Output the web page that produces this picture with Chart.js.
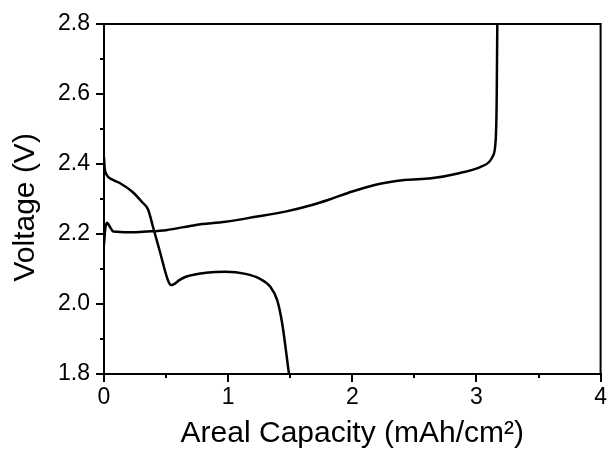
<!DOCTYPE html>
<html>
<head>
<meta charset="utf-8">
<script src="https://cdn.jsdelivr.net/npm/chart.js@4/dist/chart.umd.min.js"></script>
<style>
  html, body { margin: 0; padding: 0; background: #fff; }
  #wrap { width: 609px; height: 453px; }
</style>
</head>
<body>
<div id="wrap"><canvas id="myChart" width="609" height="453"></canvas></div>
<script>
// discharge curve
var dischargeCap  = [0, 0.005, 0.02, 0.07, 0.13, 0.23, 0.31, 0.355, 0.395, 0.45, 0.515, 0.54, 0.56, 0.61, 0.66, 0.82, 0.98, 1.14, 1.25, 1.34, 1.395, 1.435, 1.49]
var dischargeVolt = [2.42, 2.39, 2.37, 2.355, 2.345, 2.32, 2.29, 2.27, 2.22, 2.15, 2.068, 2.054, 2.056, 2.069, 2.078, 2.089, 2.092, 2.086, 2.073, 2.049, 2.011, 1.945, 1.80]

// charge curve
var chargeCap  = [0, 0.01, 0.025, 0.045, 0.075, 0.21, 0.34, 0.5, 0.74, 0.98, 1.22, 1.46, 1.675, 1.81, 1.97, 2.18, 2.42, 2.635, 2.85, 3.035, 3.1, 3.13, 3.155, 3.163, 3.168, 3.175]
var chargeVolt = [2.17, 2.215, 2.232, 2.222, 2.207, 2.205, 2.207, 2.211, 2.226, 2.235, 2.249, 2.264, 2.283, 2.298, 2.318, 2.34, 2.354, 2.359, 2.373, 2.392, 2.405, 2.421, 2.469, 2.583, 2.8, 2.9]

var xTicks = [0, 1, 2, 3, 4]
var yTicks = [1.8, 2.0, 2.2, 2.4, 2.6, 2.8]

var fontFam = "'Liberation Sans', Arial, sans-serif"

function toPoints(xs, ys) {
    return xs.map(function (x, i) { return { x: x, y: ys[i] } })
}

// top/right frame + minor ticks (at half steps, outward)
const frameAndMinor = {
    id: 'frameAndMinor',
    afterDraw(chart) {
        const ctx = chart.ctx, a = chart.chartArea
        const xs = chart.scales.x, ys = chart.scales.y
        ctx.save()
        ctx.strokeStyle = '#000'
        ctx.lineWidth = 2
        ctx.beginPath()
        ctx.moveTo(a.left, a.top)
        ctx.lineTo(a.right, a.top)
        ctx.lineTo(a.right, a.bottom)
        ctx.stroke()
        ctx.beginPath()
        for (let i = 0; i < xTicks.length - 1; i++) {
            const px = Math.round(xs.getPixelForValue((xTicks[i] + xTicks[i + 1]) / 2))
            ctx.moveTo(px, a.bottom)
            ctx.lineTo(px, a.bottom + 4)
        }
        for (let i = 0; i < yTicks.length - 1; i++) {
            const py = Math.round(ys.getPixelForValue((yTicks[i] + yTicks[i + 1]) / 2))
            ctx.moveTo(a.left, py)
            ctx.lineTo(a.left - 4, py)
        }
        ctx.stroke()
        ctx.restore()
    }
}

const data = {
    datasets: [{
        label: 'Discharge',
        data: toPoints(dischargeCap, dischargeVolt),
        borderColor: '#000',
        backgroundColor: '#000',
        borderWidth: 2.5,
        showLine: true,
        pointRadius: 0,
        cubicInterpolationMode: 'monotone'
    }, {
        label: 'Charge',
        data: toPoints(chargeCap, chargeVolt),
        borderColor: '#000',
        backgroundColor: '#000',
        borderWidth: 2.5,
        showLine: true,
        pointRadius: 0,
        cubicInterpolationMode: 'monotone'
    }]
}

const config = {
    type: 'scatter',
    data: data,
    options: {
        responsive: false,
        animation: false,
        layout: { padding: { top: 24, right: 5, left: 0, bottom: 0 } },
        plugins: { legend: { display: false }, tooltip: { enabled: false } },
        scales: {
            x: {
                type: 'linear',
                min: 0, max: 4,
                afterBuildTicks: function (scale) { scale.ticks = xTicks.map(function (v) { return { value: v } }) },
                afterFit: function (scale) { scale.height = 79 },
                border: { display: true, color: '#000', width: 2 },
                grid: { drawOnChartArea: false, drawTicks: true, tickLength: 8, color: '#000', lineWidth: 2 },
                ticks: { color: '#000', padding: 2, font: { family: fontFam, size: 23 }, maxRotation: 0,
                    callback: function (v) { return String(v) } },
                title: { display: true, text: 'Areal Capacity (mAh/cm²)', color: '#000',
                    font: { family: fontFam, size: 30 }, padding: { top: 0, bottom: 1 } }
            },
            y: {
                type: 'linear',
                min: 1.8, max: 2.8,
                afterBuildTicks: function (scale) { scale.ticks = yTicks.map(function (v) { return { value: v } }) },
                afterFit: function (scale) { scale.width = 104 },
                border: { display: true, color: '#000', width: 2 },
                grid: { drawOnChartArea: false, drawTicks: true, tickLength: 8, color: '#000', lineWidth: 2 },
                ticks: { color: '#000', padding: 6, font: { family: fontFam, size: 23 },
                    callback: function (v) { return Number(v).toFixed(1) } },
                title: { display: true, text: 'Voltage (V)  ', color: '#000',
                    font: { family: fontFam, size: 30 }, padding: { top: 8, bottom: 0 } }
            }
        }
    },
    plugins: [frameAndMinor]
}

const myChart = new Chart(document.getElementById('myChart'), config)
</script>
</body>
</html>
